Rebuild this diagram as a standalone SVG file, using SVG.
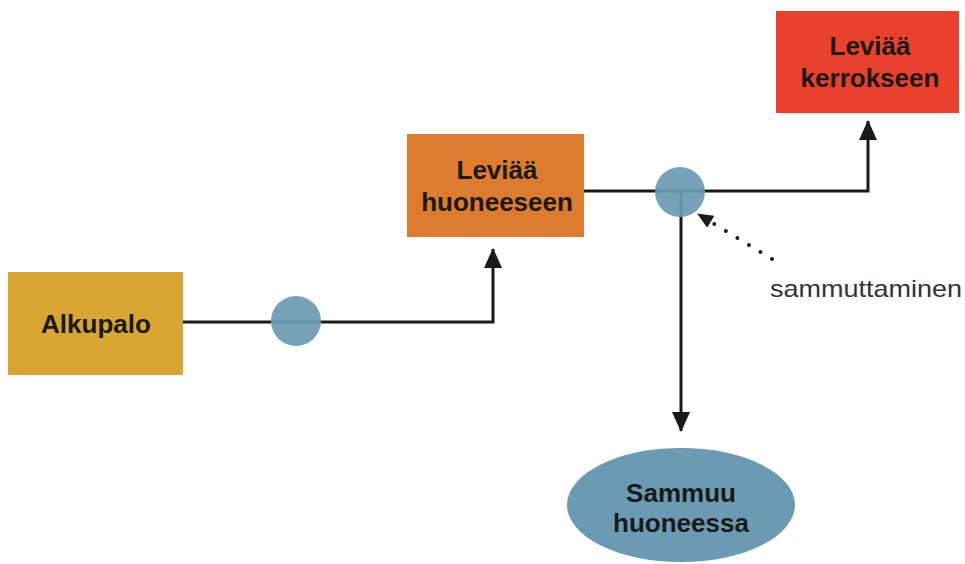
<svg xmlns="http://www.w3.org/2000/svg" width="965" height="564" viewBox="0 0 965 564">
<defs>
<marker id="ah" markerUnits="userSpaceOnUse" markerWidth="20" markerHeight="18" refX="19" refY="9" orient="auto">
<path d="M0,0 L20,9 L0,18 z" fill="#1a1a1a"/>
</marker>
<marker id="ahs" markerUnits="userSpaceOnUse" markerWidth="16" markerHeight="14" refX="15" refY="7" orient="auto">
<path d="M0,0 L16,7 L0,14 z" fill="#1a1a1a"/>
</marker>
</defs>
<style>
.lbl{font-family:"Liberation Sans",Arial,sans-serif;font-weight:bold;font-size:26px;fill:#1a1a1a;text-anchor:middle}
.ln{fill:none;stroke:#1a1a1a;stroke-width:3}
.dot{fill:#6A9BB2}
</style>
<rect width="965" height="564" fill="#ffffff"/>
<g id="connectors">
<path class="ln" d="M183,322 H493 V249" marker-end="url(#ah)"/>
<path class="ln" d="M584,191 H868 V121" marker-end="url(#ah)"/>
<path class="ln" d="M681,191 V431" marker-end="url(#ah)"/>
<path d="M772,259 L698,214" fill="none" stroke="#1a1a1a" stroke-width="4" stroke-linecap="round" stroke-dasharray="0 13.5" marker-end="url(#ahs)"/>
</g>
<g id="junction1"><circle class="dot" cx="296" cy="321" r="25" opacity="0.93"/></g>
<g id="junction2"><circle class="dot" cx="680" cy="192" r="25" opacity="0.93"/></g>
<g id="alkupalo">
<rect x="8" y="272" width="175" height="103" fill="#D9A533"/>
<text class="lbl" x="96" y="333">Alkupalo</text>
</g>
<g id="huoneeseen">
<rect x="407" y="134" width="177" height="103" fill="#DD7B2E"/>
<text class="lbl" x="497" y="179">Leviää</text>
<text class="lbl" x="497" y="211">huoneeseen</text>
</g>
<g id="kerrokseen">
<rect x="776" y="11" width="183" height="102" fill="#E8412C"/>
<text class="lbl" x="870" y="55">Leviää</text>
<text class="lbl" x="870" y="87">kerrokseen</text>
</g>
<g id="sammuu">
<ellipse cx="681" cy="505" rx="114" ry="57" fill="#6A9BB2"/>
<text class="lbl" x="681" y="502">Sammuu</text>
<text class="lbl" x="681" y="532">huoneessa</text>
</g>
<g id="sammuttaminen">
<text x="770" y="297" font-family="Liberation Sans,Arial,sans-serif" font-size="24" textLength="192" lengthAdjust="spacingAndGlyphs" fill="#333333">sammuttaminen</text>
</g>
</svg>
